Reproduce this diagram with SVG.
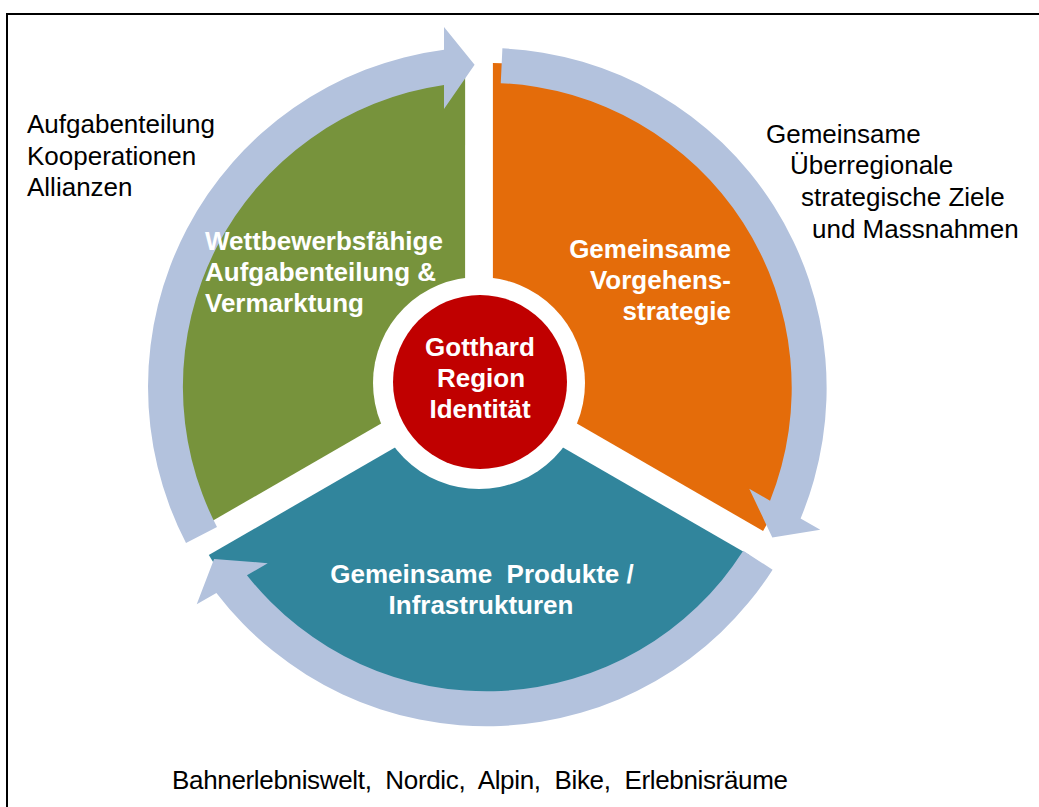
<svg xmlns="http://www.w3.org/2000/svg" width="1039" height="807" viewBox="0 0 1039 807">
<style>
text{font-family:"Liberation Sans",Arial,sans-serif;font-size:26px}
.lbl{fill:#000}
.wb{fill:#fff;font-weight:bold}
.arrow{fill:#B3C2DD}
</style>
<rect x="0" y="0" width="1039" height="807" fill="#fff"/>
<rect x="7" y="14" width="1060" height="820" fill="none" stroke="#000" stroke-width="2"/>
<g id="sector-green"><path d="M465.1 375 L465.1 63 A312 312 0 0 0 194.9 531 Z" fill="#77933C"/></g>
<g id="sector-orange"><path d="M492.9 375 L492.9 63 A312 312 0 0 1 763.1 531 Z" fill="#E46C0A"/></g>
<g id="sector-teal"><path d="M479 399 L749.2 555 A312 312 0 0 1 208.8 555 Z" fill="#31859C"/></g>
<g id="connectors">
<path id="arrow1" class="arrow" d="M186 543 A340 340 0 0 1 444 49.7 L444 27 L474.6 64.7 L444 109 L444 85 A305 305 0 0 0 217 527 Z"/>
<path id="arrow2" class="arrow" transform="rotate(120 487 387)" d="M186 543 A340 340 0 0 1 444 49.7 L444 27 L474.6 64.7 L444 109 L444 85 A305 305 0 0 0 217 527 Z"/>
<path id="arrow3" class="arrow" transform="rotate(240 487 387)" d="M186 543 A340 340 0 0 1 444 49.7 L444 27 L474.6 64.7 L444 109 L444 85 A305 305 0 0 0 217 527 Z"/>
</g>
<g id="center">
<circle cx="479" cy="383" r="106" fill="#fff"/>
<circle cx="480" cy="382" r="87" fill="#C00000"/>
<text class="wb" text-anchor="middle" x="480" y="356">Gotthard</text>
<text class="wb" text-anchor="middle" x="481" y="387">Region</text>
<text class="wb" text-anchor="middle" x="480" y="418">Identität</text>
</g>
<g id="label-green">
<text class="wb" x="205" y="250">Wettbewerbsfähige</text>
<text class="wb" x="205" y="281">Aufgabenteilung &amp;</text>
<text class="wb" x="205" y="312">Vermarktung</text>
</g>
<g id="label-orange">
<text class="wb" text-anchor="end" x="731" y="258">Gemeinsame</text>
<text class="wb" text-anchor="end" x="731" y="289">Vorgehens-</text>
<text class="wb" text-anchor="end" x="731" y="320">strategie</text>
</g>
<g id="label-teal">
<text class="wb" text-anchor="middle" x="482" y="583" xml:space="preserve">Gemeinsame  Produkte /</text>
<text class="wb" text-anchor="middle" x="481" y="614">Infrastrukturen</text>
</g>
<g id="note-left">
<text class="lbl" x="27" y="133">Aufgabenteilung</text>
<text class="lbl" x="27" y="165">Kooperationen</text>
<text class="lbl" x="27" y="196">Allianzen</text>
</g>
<g id="note-right">
<text class="lbl" x="766" y="143">Gemeinsame</text>
<text class="lbl" x="790" y="174">Überregionale</text>
<text class="lbl" x="801" y="206">strategische Ziele</text>
<text class="lbl" x="812" y="238">und Massnahmen</text>
</g>
<g id="note-bottom">
<text class="lbl" x="172" y="789" textLength="616" lengthAdjust="spacing" xml:space="preserve">Bahnerlebniswelt,  Nordic,  Alpin,  Bike,  Erlebnisräume</text>
</g>
</svg>
